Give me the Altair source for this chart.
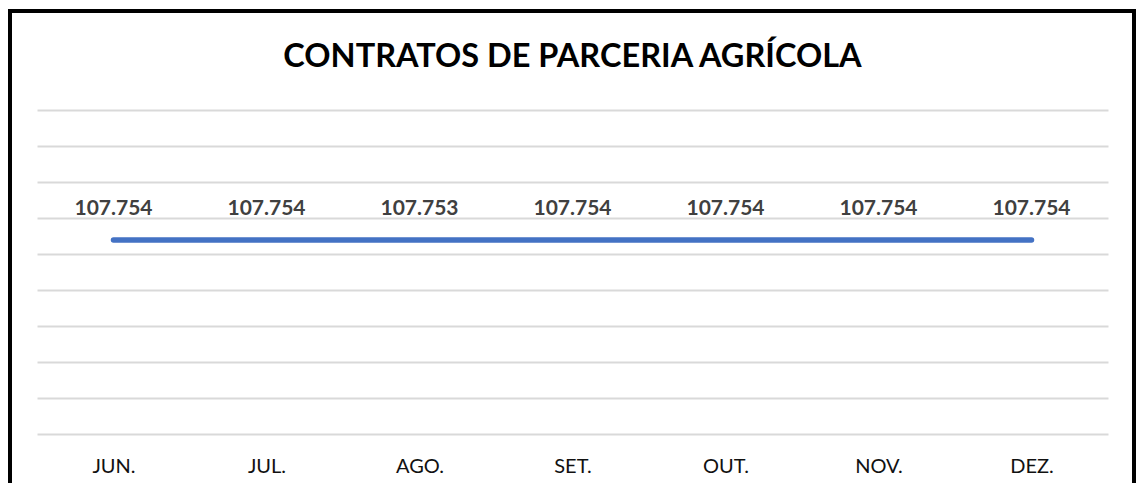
import altair as alt
import pandas as pd

months = ["JUN.", "JUL.", "AGO.", "SET.", "OUT.", "NOV.", "DEZ."]
values = [107754, 107754, 107753, 107754, 107754, 107754, 107754]
grid_values = [0, 20000, 40000, 60000, 80000, 100000, 120000, 140000, 160000, 180000]
title_text = "CONTRATOS DE PARCERIA AGRÍCOLA"

df = pd.DataFrame({
    "mes": months,
    "valor": values,
    "rotulo": [f"{v:,}".replace(",", ".") for v in values],
})

FONT = "Lato"
W, H = 1071, 324

x_axis = alt.Axis(labelAngle=0, labelFont=FONT, labelFontSize=20, labelColor="#111111",
                  labelPadding=38, labelBaseline="alphabetic", ticks=False, tickSize=0,
                  domain=False, grid=False)
y_axis = alt.Axis(values=grid_values, labels=False, ticks=False, domain=False,
                  grid=True, gridColor="#d9d9d9", gridWidth=2, labelOverlap=False)
y_scale = alt.Scale(domain=[0, 180000], nice=False, zero=True)

x = alt.X("mes:N", sort=months, title=None, axis=x_axis)
y = alt.Y("valor:Q", title=None, scale=y_scale, axis=y_axis)

base = alt.Chart(df)

line = base.mark_line(color="#4472C4", strokeWidth=5.5, strokeCap="round").encode(x=x, y=y)

labels = base.mark_text(font=FONT, fontSize=21, fontWeight="bold", color="#404040",
                        baseline="alphabetic", dy=-25).encode(x=x, y=y, text="rotulo:N")

title = alt.Chart(pd.DataFrame({"t": [title_text]})).mark_text(
    font=FONT, fontSize=32.5, fontWeight="bold", color="#000000",
    baseline="alphabetic", align="center"
).encode(x=alt.value(W / 2), y=alt.value(-43), text="t:N")

frame = alt.Chart(pd.DataFrame({"k": [0]})).mark_rect(
    fill="transparent", stroke="#000000", strokeWidth=4, clip=False
).encode(
    x=alt.value(-27), x2=alt.value(1097), y=alt.value(-99), y2=alt.value(470)
)

chart = alt.layer(line, labels, title, frame).properties(
    width=W,
    height=H,
    autosize=alt.AutoSizeParams(type="none"),
    padding={"left": 29, "top": 102, "right": 28, "bottom": 49},
    background="white",
).configure_view(stroke=None)

chart.save("out.html", embed_options={"renderer": "svg", "actions": False})
